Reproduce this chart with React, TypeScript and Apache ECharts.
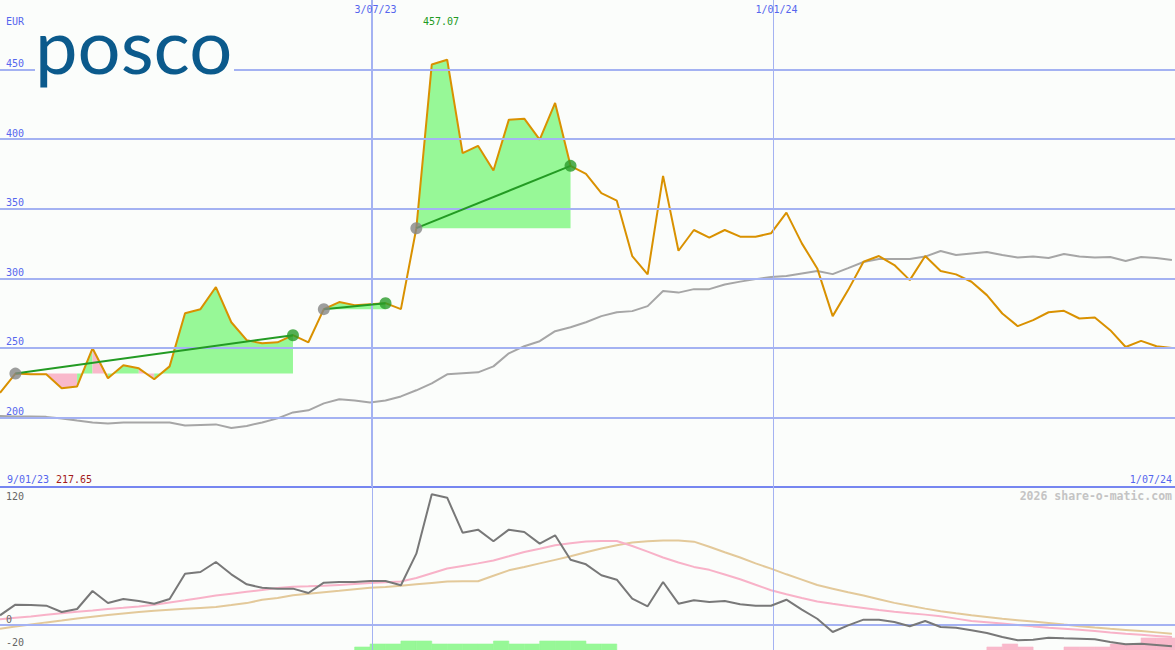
import React, { useEffect, useRef } from "react";
import * as echarts from "echarts";

// ---------- data ----------
const X_MAX = 76.2; // visible index span (weekly points)
const markerPositions = [24.12, 50.13];
const markerLabels = ["3/07/23", "1/01/24"];
const startLabel = "9/01/23";
const endLabel = "1/07/24";
const startPriceLabel = "217.65";
const highPriceLabel = "457.07";
const currencyLabel = "EUR";
const priceGridValues = [200, 250, 300, 350, 400, 450];
const lowerTickLabels = ["120", "0", "-20"];

const price = [
  217.65, 231.5, 231.0, 231.0, 220.9, 222.3, 249.7, 228.1, 237.5, 235.3,
  227.4, 236.7, 274.9, 277.8, 293.7, 268.4, 255.5, 253.3, 254.0, 259.1,
  254.0, 277.8, 282.9, 280.7, 281.4, 282.1, 277.8, 336.0, 453.6, 457.07,
  390.0, 395.2, 377.5, 414.0, 414.7, 399.6, 426.0, 380.8, 375.1, 361.2,
  355.8, 316.0, 302.8, 373.6, 319.8, 334.7, 329.2, 334.7, 329.9, 329.9,
  332.3, 347.2, 325.1, 307.1, 272.8, 291.5, 311.9, 316.0, 309.5, 298.7,
  316.0, 305.2, 302.8, 297.5, 287.9, 274.7, 265.6, 269.9, 275.6, 276.6,
  271.1, 271.8, 262.7, 250.6, 255.0, 251.2, 249.9,
];

const longAverage = [
  201.1, 200.7, 200.7, 200.4, 199.3, 197.8, 196.4, 195.7, 196.4, 196.4,
  196.4, 196.4, 194.2, 194.6, 195.0, 192.4, 193.9, 196.4, 199.3, 203.6,
  205.1, 210.1, 213.0, 212.2, 210.8, 212.2, 215.1, 219.5, 224.5, 231.0,
  231.7, 232.4, 236.7, 246.1, 251.2, 254.8, 262.0, 264.8, 268.4, 272.8,
  275.6, 276.4, 280.0, 290.8, 289.7, 292.2, 292.2, 295.5, 297.6, 299.4,
  300.9, 301.6, 303.4, 305.2, 303.0, 307.3, 311.7, 313.8, 313.8, 313.8,
  315.6, 319.6, 316.7, 317.8, 318.9, 316.7, 314.9, 315.6, 314.6, 317.4,
  315.6, 314.9, 315.3, 312.4, 315.3, 314.6, 313.1,
];

// trend segments: [start index, end index]
const trendSegments = [
  [1, 19],
  [21, 25],
  [27, 37],
];

const momentum = [
  7.8, 16.9, 16.6, 16.0, 10.6, 13.2, 28.5, 18.3, 21.7, 20.0,
  17.7, 21.7, 43.2, 44.7, 53.2, 42.7, 34.2, 31.3, 30.5, 30.5,
  26.8, 35.6, 36.2, 36.2, 37.0, 37.0, 33.4, 60.3, 110.8, 107.9,
  78.1, 80.7, 70.8, 80.7, 78.7, 68.8, 75.9, 55.1, 51.2, 41.9,
  38.1, 22.0, 15.5, 36.2, 17.7, 20.6, 19.1, 20.0, 17.2, 16.0,
  16.0, 21.1, 12.6, 4.9, -6.4, -0.7, 4.1, 4.1, 2.1, -1.5,
  3.0, -2.1, -2.7, -4.9, -7.2, -10.6, -13.4, -12.9, -11.2, -11.7,
  -12.1, -12.6, -14.9, -16.9, -16.3, -17.4, -18.6,
];

const momentumFast = [
  4.4, 5.7, 6.9, 8.2, 9.5, 10.8, 11.9, 13.1, 14.2, 15.4,
  16.8, 18.7, 20.6, 22.6, 24.6, 26.2, 27.8, 29.4, 31.1, 32.2,
  32.5, 32.9, 33.7, 34.5, 35.3, 35.9, 36.6, 39.5, 43.6, 47.6,
  49.8, 52.0, 54.5, 58.0, 61.7, 64.5, 67.5, 69.2, 70.7, 71.0,
  71.1, 66.8, 62.0, 57.0, 52.8, 49.0, 46.5, 42.5, 38.5, 33.8,
  29.2, 25.7, 22.5, 19.6, 17.6, 15.7, 14.0, 12.3, 10.8, 9.5,
  8.4, 7.0, 5.0, 3.0, 1.9, 0.8, -0.4, -1.6, -2.7, -3.6,
  -4.5, -5.5, -6.9, -7.9, -8.8, -9.7, -10.6,
];

const momentumSlow = [
  -3.6, -1.8, 0.0, 1.8, 3.4, 5.2, 6.6, 8.0, 9.4, 10.6,
  11.7, 12.5, 13.3, 14.1, 14.9, 16.5, 18.2, 21.0, 22.5, 24.8,
  26.2, 27.5, 28.7, 30.0, 31.3, 32.0, 33.0, 34.2, 35.4, 36.6,
  36.8, 36.8, 41.5, 46.1, 49.0, 52.0, 55.0, 58.0, 61.5, 64.7,
  67.5, 69.8, 70.8, 71.5, 71.5, 70.5, 66.2, 61.5, 57.0, 52.0,
  47.5, 42.7, 38.2, 33.6, 30.5, 27.4, 24.6, 21.5, 18.4, 16.0,
  13.5, 11.2, 9.5, 7.9, 6.4, 4.9, 3.7, 2.5, 1.3, -0.1,
  -1.4, -2.6, -3.7, -4.6, -5.6, -6.7, -7.8,
];

// signal bars: [index, level]
const positiveBars = [
  [23, 1], [24, 2], [25, 2], [26, 3], [27, 3], [28, 2], [29, 2], [30, 2], [31, 2],
  [32, 3], [33, 2], [34, 2], [35, 3], [36, 3], [37, 3], [38, 2], [39, 2],
];
const negativeBars = [
  [64, 1], [65, 2], [66, 1], [69, 1], [70, 1], [71, 1], [72, 2], [73, 2],
  [74, 4], [75, 4], [76, 4],
];

// ---------- styling ----------
const BG = "#fbfdfb";
const GRID_BLUE = "#a4b2f2";
const DIVIDER_BLUE = "#7686f0";
const LABEL_BLUE = "#5566ee";
const ORANGE = "#d99100";
const MA_GRAY = "#a6a6a6";
const FILL_GREEN = "#97f897";
const FILL_PINK = "#f9b9cb";
const TREND_GREEN = "#239b23";
const MONO = '"DejaVu Sans Mono", monospace';

type Poly = { pts: number[][]; color: string };

// area between the trend start level and the price; each interval is
// coloured by where it ends relative to the start level, and runs of
// equal colour are merged into one polygon
function buildFills(): Poly[] {
  const polys: Poly[] = [];
  for (const [s, e] of trendSegments) {
    const b = price[s];
    let runStart = s;
    let runColor = "";
    for (let i = s; i < e; i++) {
      const c = price[i + 1] >= b ? FILL_GREEN : FILL_PINK;
      if (i === s) runColor = c;
      if (c !== runColor) {
        const pts: number[][] = [[runStart, b]];
        for (let k = runStart; k <= i; k++) pts.push([k, price[k]]);
        pts.push([i, b]);
        polys.push({ pts, color: runColor });
        runStart = i;
        runColor = c;
      }
    }
    const pts: number[][] = [[runStart, b]];
    for (let k = runStart; k <= e; k++) pts.push([k, price[k]]);
    pts.push([e, b]);
    polys.push({ pts, color: runColor });
  }
  return polys;
}

export default function App() {
  const ref = useRef<HTMLDivElement>(null);

  useEffect(() => {
    if (!ref.current) return;
    const chart = echarts.init(ref.current, undefined, { renderer: "svg" });
    const fills = buildFills();
    const idx = price.map((_, i) => i);

    const textStyle = (
      text: string,
      x: number,
      y: number,
      fill: string,
      align: string,
      font = `10px ${MONO}`
    ) => ({
      type: "text",
      x,
      y,
      z: 100,
      silent: true,
      style: {
        text,
        fill,
        font,
        align,
        textAlign: align,
        verticalAlign: "middle",
        textVerticalAlign: "middle",
      },
    });

    const option: any = {
      animation: false,
      backgroundColor: BG,
      grid: [
        { left: 0, right: 0, top: 0, height: 487 },
        { left: 0, right: 0, top: 487, height: 163 },
      ],
      xAxis: [
        {
          type: "value",
          gridIndex: 0,
          min: 0,
          max: X_MAX,
          axisLine: { show: true, onZero: false, lineStyle: { color: DIVIDER_BLUE, width: 2 } },
          axisTick: { show: false },
          axisLabel: { show: false },
          splitLine: { show: false },
        },
        { type: "value", gridIndex: 1, min: 0, max: X_MAX, show: false },
      ],
      yAxis: [
        {
          type: "value",
          gridIndex: 0,
          min: 150,
          max: 500,
          interval: 50,
          axisLine: { show: false },
          axisTick: { show: false },
          splitLine: { show: false },
          axisLabel: {
            inside: true,
            margin: 6,
            verticalAlign: "bottom",
            color: LABEL_BLUE,
            fontFamily: MONO,
            fontSize: 10,
            padding: [0, 0, 1, 0],
            showMinLabel: false,
            showMaxLabel: false,
          },
        },
        { type: "value", gridIndex: 1, min: -21.7, max: 117, show: false },
        { type: "value", gridIndex: 1, min: 0, max: 54.33, show: false },
      ],
      graphic: [
        { type: "rect", z: 99, silent: true, shape: { x: 35, y: 28, width: 199, height: 64 }, style: { fill: BG } },
        textStyle("posco", 35, 44, "#0b5a8c", "left", "76px Lato"),
        textStyle(currencyLabel, 6, 21.5, LABEL_BLUE, "left"),
        textStyle(markerLabels[0], 375.5, 9, LABEL_BLUE, "center"),
        textStyle(markerLabels[1], 776.5, 9, LABEL_BLUE, "center"),
        textStyle(highPriceLabel, 423, 21, "#229a22", "left"),
        textStyle(startLabel, 7, 479, LABEL_BLUE, "left"),
        textStyle(startPriceLabel, 56, 479, "#a31a1a", "left"),
        textStyle(endLabel, 1172, 479, LABEL_BLUE, "right"),
        textStyle("2026 share-o-matic.com", 1172, 496, "#c4c4c4", "right", `bold 11.5px ${MONO}`),
        textStyle(lowerTickLabels[0], 6, 496, "#666666", "left"),
        textStyle(lowerTickLabels[1], 6, 619, "#666666", "left"),
        textStyle(lowerTickLabels[2], 6, 642, "#666666", "left"),
      ],
      series: [
        {
          type: "custom",
          xAxisIndex: 0,
          yAxisIndex: 0,
          z: 1,
          silent: true,
          clip: true,
          data: fills.map((p) => [p.pts[0][0], p.pts[0][1]]),
          renderItem: (params: any, api: any) => {
            const poly = fills[params.dataIndex];
            return {
              type: "polygon",
              shape: { points: poly.pts.map((p) => api.coord(p)) },
              style: { fill: poly.color, stroke: null },
            };
          },
        },
        {
          type: "line",
          xAxisIndex: 0,
          yAxisIndex: 0,
          z: 2,
          data: [],
          silent: true,
          markLine: {
            silent: true,
            symbol: "none",
            label: { show: false },
            lineStyle: { color: GRID_BLUE, width: 2, type: "solid" },
            data: [
              ...priceGridValues.map((v) => ({ yAxis: v })),
              { xAxis: markerPositions[0], lineStyle: { color: GRID_BLUE, width: 2, type: "solid" } },
              { xAxis: markerPositions[1], lineStyle: { color: GRID_BLUE, width: 1, type: "solid" } },
            ],
          },
        },
        {
          type: "line",
          xAxisIndex: 0,
          yAxisIndex: 0,
          z: 3,
          silent: true,
          symbol: "none",
          data: idx.map((i) => [i, longAverage[i]]),
          lineStyle: { color: MA_GRAY, width: 2 },
        },
        {
          type: "line",
          xAxisIndex: 0,
          yAxisIndex: 0,
          z: 4,
          silent: true,
          symbol: "none",
          data: idx.map((i) => [i, price[i]]),
          lineStyle: { color: ORANGE, width: 2 },
        },
        ...trendSegments.map(([s, e]) => ({
          type: "line",
          xAxisIndex: 0,
          yAxisIndex: 0,
          z: 5,
          silent: true,
          symbol: "none",
          data: [
            [s, price[s]],
            [e, price[e]],
          ],
          lineStyle: { color: TREND_GREEN, width: 2 },
        })),
        {
          type: "scatter",
          xAxisIndex: 0,
          yAxisIndex: 0,
          z: 6,
          silent: true,
          symbolSize: 12,
          itemStyle: { color: "#868686" },
          data: trendSegments.map(([s]) => [s, price[s]]),
        },
        {
          type: "scatter",
          xAxisIndex: 0,
          yAxisIndex: 0,
          z: 6,
          silent: true,
          symbolSize: 12,
          itemStyle: { color: "#2b9b2b" },
          data: trendSegments.map(([, e]) => [e, price[e]]),
        },
        // lower panel
        {
          type: "line",
          xAxisIndex: 1,
          yAxisIndex: 1,
          z: 2,
          data: [],
          silent: true,
          markLine: {
            silent: true,
            symbol: "none",
            label: { show: false },
            lineStyle: { color: GRID_BLUE, width: 2, type: "solid" },
            data: [
              { yAxis: 0 },
              { xAxis: markerPositions[0], lineStyle: { color: GRID_BLUE, width: 1, type: "solid" } },
              { xAxis: markerPositions[1], lineStyle: { color: GRID_BLUE, width: 1, type: "solid" } },
            ],
          },
        },
        {
          type: "custom",
          xAxisIndex: 1,
          yAxisIndex: 2,
          z: 3,
          silent: true,
          clip: true,
          data: [
            ...positiveBars.map(([i, v]) => [i, v, 1]),
            ...negativeBars.map(([i, v]) => [i, v, -1]),
          ],
          renderItem: (params: any, api: any) => {
            const i = api.value(0);
            const v = api.value(1);
            const sgn = api.value(2);
            const p0 = api.coord([i, 0]);
            const p1 = api.coord([i + 1, v]);
            const color = sgn > 0 ? FILL_GREEN : FILL_PINK;
            return {
              type: "rect",
              shape: { x: p0[0], y: p1[1], width: p1[0] - p0[0], height: p0[1] - p1[1] },
              style: { fill: color, stroke: color, lineWidth: 0.6 },
            };
          },
        },
        {
          type: "line",
          xAxisIndex: 1,
          yAxisIndex: 1,
          z: 4,
          silent: true,
          symbol: "none",
          data: idx.map((i) => [i, momentumSlow[i]]),
          lineStyle: { color: "#e3c99a", width: 2 },
        },
        {
          type: "line",
          xAxisIndex: 1,
          yAxisIndex: 1,
          z: 4,
          silent: true,
          symbol: "none",
          data: idx.map((i) => [i, momentumFast[i]]),
          lineStyle: { color: "#f8b2c8", width: 2 },
        },
        {
          type: "line",
          xAxisIndex: 1,
          yAxisIndex: 1,
          z: 5,
          silent: true,
          symbol: "none",
          data: idx.map((i) => [i, momentum[i]]),
          lineStyle: { color: "#787878", width: 2 },
        },
      ],
    };

    chart.setOption(option);
    return () => chart.dispose();
  }, []);

  return (
    <div
      ref={ref}
      style={{ position: "absolute", left: 0, top: 0, width: 1175, height: 650 }}
    />
  );
}
